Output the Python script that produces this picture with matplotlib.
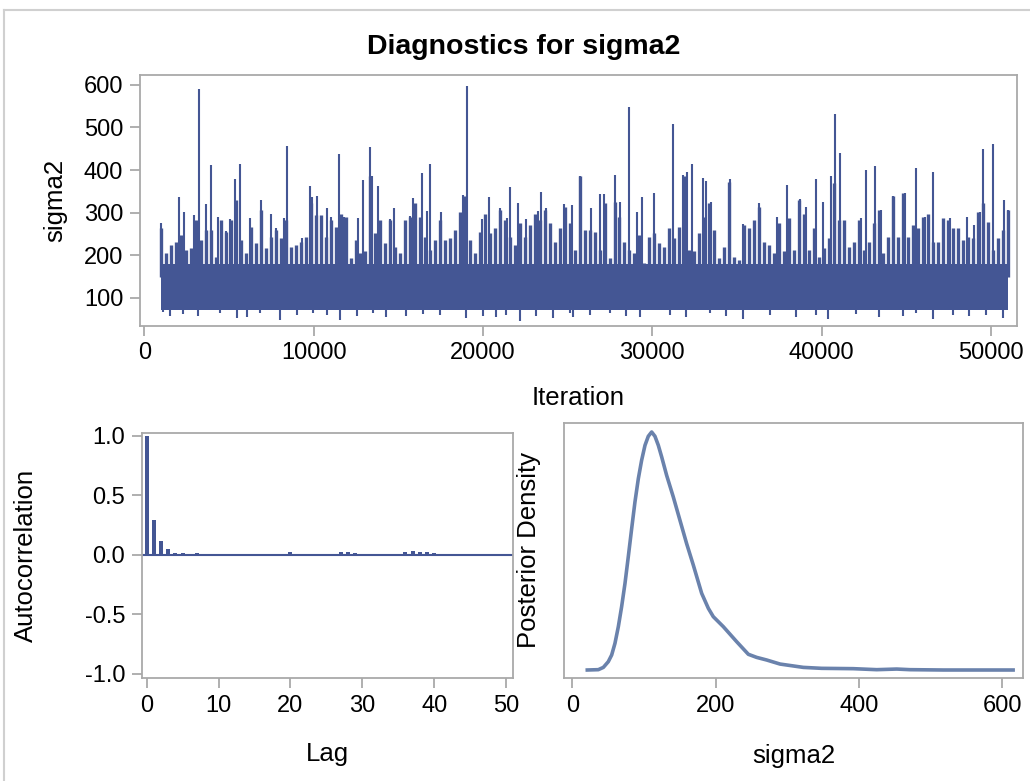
import numpy as np
import matplotlib
matplotlib.use("Agg")
import matplotlib.pyplot as plt
from matplotlib.lines import Line2D

plt.rcParams['font.family'] = ['Liberation Sans', 'DejaVu Sans']

# ---- trace plot data ----
# tops of the chain's ragged band, read every ~5 px across the panel
band_top = [263, 205, 224, 232, 248, 212, 216, 283, 236, 259, 259, 197, 283, 255, 283, 330,
            236, 205, 267, 228, 306, 216, 244, 259, 240, 283, 220, 224, 232, 244, 322, 294,
            294, 244, 283, 267, 298, 291, 193, 236, 205, 209, 385, 252, 283, 228, 283, 220,
            205, 283, 291, 322, 291, 244, 212, 236, 283, 236, 240, 259, 302, 338, 236, 205,
            255, 298, 252, 263, 306, 283, 244, 224, 275, 244, 271, 298, 283, 306, 275, 232,
            263, 314, 275, 212, 385, 259,
            259, 255, 212, 322, 193, 326, 291, 232, 212, 205, 248, 181, 244, 252, 228, 220,
            263, 240, 267, 385, 212, 209, 252, 291, 322, 259, 193, 220, 373, 197, 189, 271,
            263, 283, 314, 232, 224, 205, 275, 209, 287, 212, 330, 298, 212, 263, 197, 216,
            240, 369, 283, 283, 220, 232, 283, 212, 232, 275, 306, 205, 244, 338, 244, 345,
            244, 271, 263, 291, 298, 232, 232, 287, 283, 263, 263, 236, 244, 240, 302, 322,
            279, 212, 240, 259, 306]
band_start, band_end = 1000, 51000
# solid part of the band
core_top = 180
core_bottom = 72

# tall spikes (iteration, sigma2)
spike_iter = [1000, 2066, 2361, 2932, 3208, 3620, 3954, 4328, 4800, 5056, 5350, 5646,
              6256, 6885, 7456, 7770, 8262, 8420, 9325, 9758, 9915, 10190, 10800, 11017,
              11490, 11785, 12611, 12887, 13300, 13457, 13811, 14500, 14755, 15695, 15872,
              16383, 16698, 16856, 17545, 18823, 19040, 19942, 20360, 21010, 21420, 21620,
              22070, 22560, 23250, 23445, 23740, 24763, 25254, 25746, 26375, 26886, 27142,
              27810, 28067, 28618, 29090, 29404, 30093, 31217, 31827, 32024, 32338, 32987,
              33180, 33433, 34576, 35343, 36267, 37349, 37937, 38724, 39078, 39688, 40062,
              40554, 40769, 41103, 42327, 42622, 43134, 43507, 44196, 44944, 45553, 46124,
              46557, 47598, 48564, 48997, 49350, 49542, 50130, 50740, 50995]
spike_val = [275, 337, 302, 294, 589, 320, 411, 290, 258, 285, 378, 414,
             288, 329, 298, 265, 288, 457, 241, 362, 336, 339, 312, 291,
             437, 290, 288, 376, 454, 385, 362, 285, 311, 293, 334,
             393, 304, 415, 301, 341, 597, 285, 337, 310, 288, 360,
             322, 284, 303, 348, 310, 320, 317, 387, 310, 344, 344,
             389, 325, 547, 301, 336, 345, 509, 388, 395, 413, 381,
             374, 326, 380, 274, 322, 289, 366, 331, 313, 378, 326,
             386, 531, 441, 287, 399, 409, 307, 339, 346, 405, 290,
             396, 288, 291, 270, 301, 449, 460, 330, 307]

# low dips below the band
low_iter = [1123, 1516, 2303, 3188, 4466, 5450, 6040, 6826, 8006, 8990, 9974, 10760,
            11546, 12530, 13513, 14300, 15480, 16463, 17447, 19000, 20003, 20790, 21380,
            22166, 23150, 24133, 25117, 25313, 26296, 27476, 28460, 29246, 31016, 31999,
            33376, 34360, 35343, 36917, 38490, 39670, 40358, 42030, 43407, 44783, 45570,
            46553, 47733, 48717, 49700, 50683]
low_val = [68, 58, 63, 58, 64, 52, 56, 64, 48, 60, 64, 60,
           48, 58, 64, 55, 58, 63, 60, 52, 58, 55, 60,
           45, 58, 52, 64, 55, 60, 64, 58, 55, 60, 55,
           64, 58, 50, 60, 56, 60, 50, 63, 56, 58, 64,
           50, 60, 58, 60, 52]

# ---- autocorrelation ----
lags = list(range(51))
acf = [1.0, 0.298, 0.114, 0.050, 0.014, 0.014, 0.002, 0.020, 0.002, 0.002,
       0.002, -0.006, 0.001, 0.001, 0.001, 0.006, 0.001, 0.001, 0.001, 0.008,
       0.028, 0.012, 0.002, 0.002, 0.002, 0.002, 0.010, 0.025, 0.022, 0.016,
       0.012, 0.003, 0.001, -0.006, 0.001, 0.003, 0.022, 0.036, 0.027, 0.027,
       0.018, -0.005, 0.002, 0.002, 0.002, 0.012, 0.002, 0.010, 0.002, 0.002,
       0.002]

# ---- posterior density (relative height, peak = 1) ----
dens_x = [20.9, 36.3, 43.3, 50.2, 54.9, 59.5, 64.2, 68.8, 73.5, 78.1, 82.8, 87.4,
          92.1, 96.7, 101.4, 106.0, 110.7, 115.3, 120.0, 124.7, 131.6, 140.9, 150.2,
          159.5, 168.8, 180.5, 189.8, 196.7, 210.7, 229.3, 245.6, 257.2, 271.2, 289.8,
          322.3, 347.9, 392.0, 424.7, 452.6, 471.0, 517.7, 615.0]
dens_rel = [0.0, 0.0014, 0.011, 0.035, 0.063, 0.112, 0.182, 0.266, 0.364, 0.476, 0.594,
            0.706, 0.804, 0.881, 0.944, 0.982, 1.0, 0.982, 0.944, 0.895, 0.818, 0.727,
            0.629, 0.531, 0.441, 0.322, 0.259, 0.224, 0.182, 0.119, 0.066, 0.053, 0.042,
            0.025, 0.011, 0.007, 0.0056, 0.0014, 0.004, 0.0014, 0.0, 0.0]
peak_density = 0.0086
dens_y = [v * peak_density for v in dens_rel]

blue = '#445694'
dens_col = '#6a82ac'
frame = '#a9a9a9'
W, H = 1030, 781

fig = plt.figure(figsize=(W / 100, H / 100), dpi=100)


def box(l, t, r, b):
    return [l / W, 1 - b / H, (r - l) / W, (b - t) / H]


def style(ax):
    for s in ax.spines.values():
        s.set_color(frame)
        s.set_linewidth(1.3)
    ax.tick_params(colors=frame, labelcolor='black', labelsize=17, length=7, width=1.3, pad=5)


# outer border
fig.add_artist(Line2D([4 / W, 4 / W], [0, 1 - 10 / H], color='#d0d0d0', lw=1.5))
fig.add_artist(Line2D([4 / W, 1], [1 - 10 / H, 1 - 10 / H], color='#d0d0d0', lw=1.5))

fig.text(524 / W, 1 - 47 / H, 'Diagnostics for sigma2', ha='center', va='center',
         fontsize=20.5, fontweight='bold')

# trace
ax1 = fig.add_axes(box(140, 75, 1017, 325.5))
style(ax1)
band_iter = np.linspace(band_start, band_end, len(band_top))
ax1.fill_between([band_start, band_end], core_bottom, core_top, color=blue, lw=0)
ax1.vlines(band_iter, 150, band_top, color=blue, lw=2.4)
ax1.vlines(spike_iter, 150, spike_val, color=blue, lw=1.5)
ax1.vlines(low_iter, low_val, 100, color=blue, lw=1.5)
ax1.set_xlim(-254, 51530)
ax1.set_ylim(35.5, 622.7)
ax1.set_xticks(range(0, 50001, 10000))
ax1.set_yticks(range(100, 601, 100))
ax1.set_xlabel('Iteration', fontsize=18.5)
ax1.set_ylabel('sigma2', fontsize=18.5)
ax1.xaxis.set_label_coords(0.5, -0.24)
ax1.yaxis.set_label_coords(-0.083, 0.5)

# autocorrelation
ax2 = fig.add_axes(box(142, 433, 513, 678))
style(ax2)
ax2.bar(lags, acf, width=0.55, color=blue, lw=0)
ax2.axhline(0, color=blue, lw=1.5)
ax2.set_xlim(-0.65, 50.97)
ax2.set_ylim(-1.034, 1.025)
ax2.set_xticks(range(0, 51, 10))
ax2.set_yticks([-1.0, -0.5, 0.0, 0.5, 1.0])
ax2.set_yticklabels(['-1.0', '-0.5', '0.0', '0.5', '1.0'])
ax2.set_xlabel('Lag', fontsize=18.5)
ax2.set_ylabel('Autocorrelation', fontsize=18.5)
ax2.xaxis.set_label_coords(0.5, -0.26)
ax2.yaxis.set_label_coords(-0.28, 0.5)

# density
ax3 = fig.add_axes(box(564, 423, 1023, 678))
style(ax3)
ax3.plot(dens_x, dens_y, color=dens_col, lw=2.6, solid_joinstyle='round')
ax3.set_xlim(-11.6, 628.8)
ax3.set_ylim(-0.0336 * peak_density, 1.0378 * peak_density)
ax3.set_xticks([0, 200, 400, 600])
ax3.set_yticks([])
ax3.set_xlabel('sigma2', fontsize=18.5)
ax3.set_ylabel('Posterior Density', fontsize=18.5)
ax3.xaxis.set_label_coords(0.5, -0.26)
ax3.yaxis.set_label_coords(-0.05, 0.5)

fig.savefig('out.png', dpi=100)
